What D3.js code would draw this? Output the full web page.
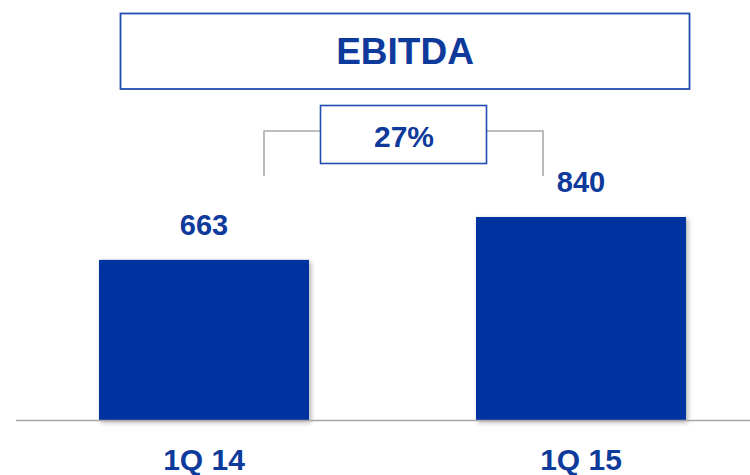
<!DOCTYPE html>
<html><head><meta charset="utf-8">
<script src="https://cdn.jsdelivr.net/npm/d3@7"></script>
<style>html,body{margin:0;padding:0;background:#fff;}svg{display:block;font-family:"Liberation Sans",Arial,sans-serif;}</style>
</head><body>
<svg id="c" width="750" height="475"></svg>
<script>
const categories = ["1Q 14", "1Q 15"];
const values = [663, 840];
const growthLabel = "27%";
const title = "EBITDA";

const W = 750, H = 475;
const svg = d3.select("#c");
const barColor = "#0033a0", textColor = "#0d3a9b", gray = "#a8a8a8";

const defs = svg.append("defs");
const f = defs.append("filter").attr("id","sh").attr("x","-10%").attr("y","-10%").attr("width","130%").attr("height","130%");
f.append("feDropShadow").attr("dx",2).attr("dy",2).attr("stdDeviation",2.5).attr("flood-color","#000").attr("flood-opacity",0.3);

const x = d3.scaleBand().domain(categories).range([-89.5, 874.5]).paddingInner(0.443).paddingOuter(0.5);
const y = d3.scaleLinear().domain([0, 840]).range([420.5, 217]);

// bars
svg.selectAll("rect.bar").data(categories).join("rect").attr("class","bar")
  .attr("x", d => x(d)).attr("width", x.bandwidth())
  .attr("y", (d,i) => y(values[i])).attr("height", (d,i) => y(0) - y(values[i]))
  .attr("fill", barColor).attr("filter","url(#sh)");

// baseline
svg.append("line").attr("x1",16).attr("x2",750).attr("y1",y(0)).attr("y2",y(0))
  .attr("stroke","#a6a6a6").attr("stroke-width",1.6);

// value labels
svg.selectAll("text.val").data(categories).join("text").attr("class","val")
  .attr("x", d => x(d) + x.bandwidth()/2).attr("y", (d,i) => y(values[i]) - 25)
  .attr("text-anchor","middle").attr("font-size",29).attr("font-weight","bold")
  .attr("fill",textColor).text((d,i) => values[i]);

// category labels
svg.selectAll("text.cat").data(categories).join("text").attr("class","cat")
  .attr("x", d => x(d) + x.bandwidth()/2).attr("y", 470)
  .attr("text-anchor","middle").attr("font-size",30).attr("font-weight","bold")
  .attr("fill",textColor).text(d => d);

// title box
svg.append("rect").attr("x",120.5).attr("y",13.5).attr("width",569).attr("height",75.5)
  .attr("fill","#fff").attr("stroke","#1f4db0").attr("stroke-width",1.8);
svg.append("text").attr("x",405).attr("y",64).attr("text-anchor","middle")
  .attr("font-size",37).attr("font-weight","bold").attr("fill",textColor).text(title);

// growth bracket
svg.append("path").attr("d", `M264,176V131H320M487,131H543V176`)
  .attr("fill","none").attr("stroke",gray).attr("stroke-width",1.6);
svg.append("rect").attr("x",320.5).attr("y",105.5).attr("width",166).attr("height",58)
  .attr("fill","#fff").attr("stroke","#1f4db0").attr("stroke-width",1.6);
svg.append("text").attr("x",404).attr("y",146.5).attr("text-anchor","middle")
  .attr("font-size",30).attr("font-weight","bold").attr("fill",textColor).text(growthLabel);
</script>
</body></html>
